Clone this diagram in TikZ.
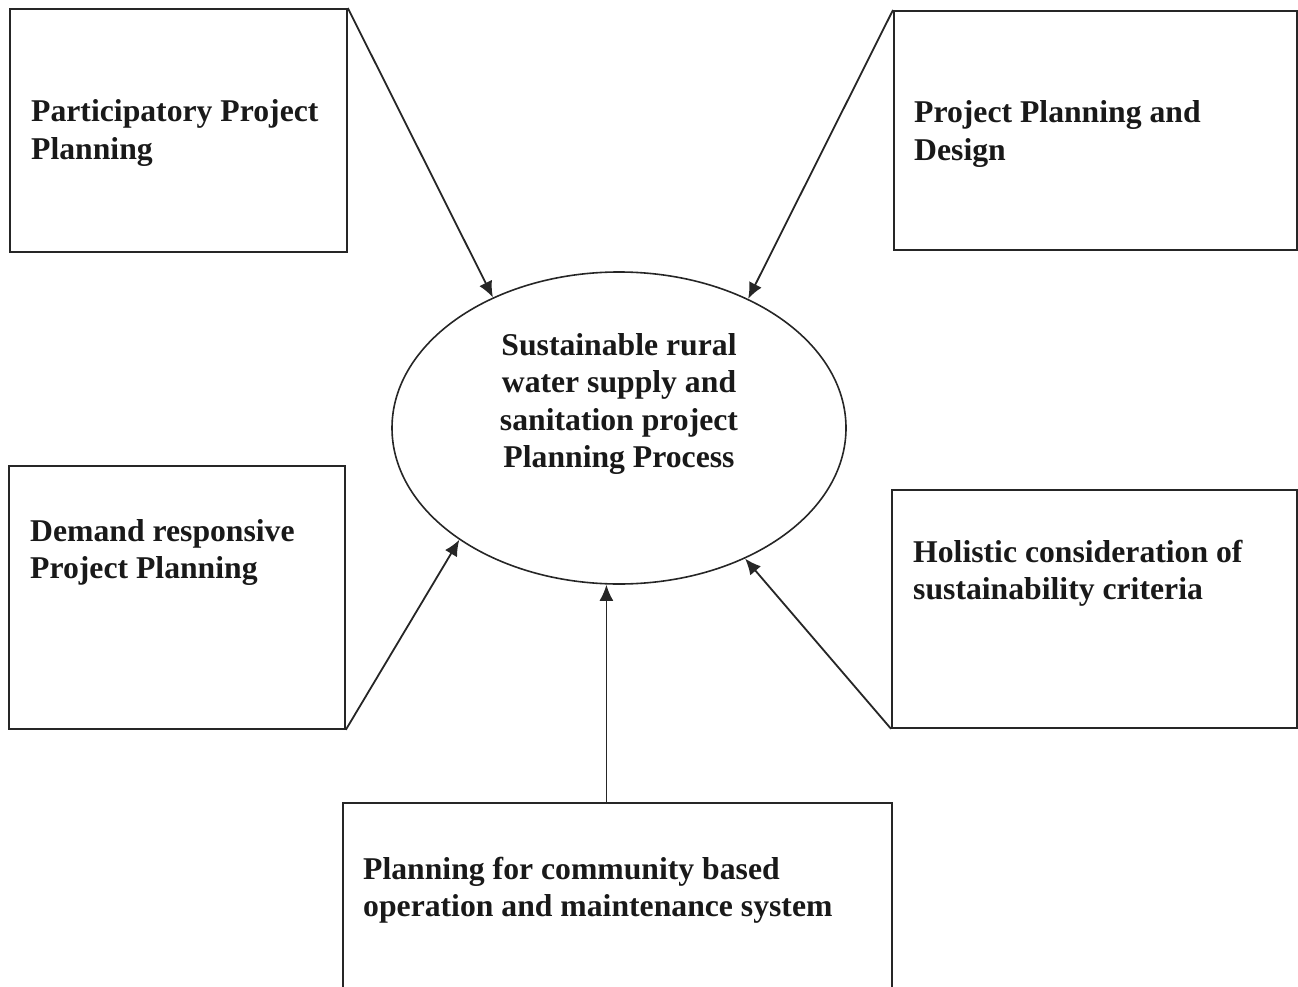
\documentclass[tikz,border=0pt]{standalone}
\usepackage{fontspec}
\setmainfont{Liberation Serif}
\usetikzlibrary{shapes.geometric,arrows.meta}
\begin{document}
\begin{tikzpicture}[x=1pt,y=-1pt,
  ink/.style={draw=black!85},
  frame/.style={ink,line width=1.8pt,rectangle,inner sep=0pt,anchor=north west},
  caption/.style={anchor=base west,inner sep=0pt,align=left,
    font=\fontsize{31.7}{37.5}\selectfont\bfseries,text=black!90},
  arr/.style={ink,line width=1.8pt,-{Latex[length=16pt,width=14pt]}}]
  % canvas
  \useasboundingbox (0,0) rectangle (1298,987);
  \clip (0,0) rectangle (1298,987);

  % central ellipse (text anchored on the baseline of its last line)
  \node[ink,line width=1.6pt,ellipse,minimum width=454pt,minimum height=312pt,
        inner sep=0pt] (core) at (619,428) {};
  \node[anchor=base,inner sep=0pt,align=center,
        font=\fontsize{31.7}{37.5}\selectfont\bfseries,text=black!90]
        (coretext) at (619,467.5)
        {Sustainable rural\\water supply and\\sanitation project\\Planning Process};

  % surrounding boxes
  \node[frame,minimum width=337pt,minimum height=243pt] (tl) at (9,8) {};
  \node[frame,minimum width=403pt,minimum height=239pt] (tr) at (893,10) {};
  \node[frame,minimum width=336pt,minimum height=263pt] (ml) at (8,465) {};
  \node[frame,minimum width=405pt,minimum height=238pt] (mr) at (891,489) {};
  \node[frame,minimum width=549pt,minimum height=200pt] (bot) at (342,802) {};

  % box captions (anchored on the baseline of the second line)
  \node[caption] (tltext) at (31,159.5) {Participatory Project\\Planning};
  \node[caption] (trtext) at (914,160.5) {Project Planning and\\Design};
  \node[caption] (mltext) at (30,578.5) {Demand responsive\\Project Planning};
  \node[caption] (mrtext) at (913,599.5) {Holistic consideration of\\sustainability criteria};
  \node[caption] (bottext) at (363,916.5) {Planning for community based\\operation and maintenance system};

  % connectors into the ellipse
  \draw[arr] (tl.north east) -- (core.134.5);
  \draw[arr] (tr.north west) -- (core.45.5);
  \draw[arr] (ml.south east) -- (core.215);
  \draw[arr] (mr.south west) -- (core.314);
  \draw[arr] ([xshift=-11pt]bot.north) -- ([xshift=-11pt]bot.north |- core.south);
\end{tikzpicture}
\end{document}
